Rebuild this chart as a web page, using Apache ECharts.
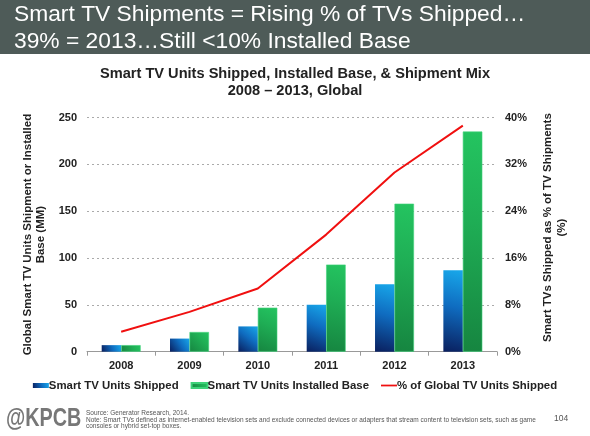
<!DOCTYPE html>
<html>
<head>
<meta charset="utf-8">
<script src="https://cdn.jsdelivr.net/npm/echarts@6/dist/echarts.min.js"></script>
<style>html,body{margin:0;padding:0;background:#fff;}#c{width:590px;height:436px;}</style>
</head>
<body>
<div id="c"></div>
<script>
const years = ['2008','2009','2010','2011','2012','2013'];
const unitsShipped = [7, 14, 27, 50, 72, 87];
const installedBase = [7, 21, 47, 93, 158, 235];
const pctShipped = [3.4, 6.8, 10.8, 20.0, 30.6, 38.6];
const leftTicks = {min: 0, max: 250, interval: 50};
const rightTicks = {min: 0, max: 40, interval: 8};

const chart = echarts.init(document.getElementById('c'));
const F = 'Liberation Sans, Arial, sans-serif';
const blueGrad = new echarts.graphic.LinearGradient(0, 1, 1, 0, [
  {offset: 0, color: '#0a1f5e'}, {offset: 0.55, color: '#0f6cc0'}, {offset: 1, color: '#18a8ea'}]);
const greenGrad = new echarts.graphic.LinearGradient(0, 1, 1, 0, [
  {offset: 0, color: '#168540'}, {offset: 0.6, color: '#1fae55'}, {offset: 1, color: '#24c460'}]);

chart.setOption({
  animation: false,
  textStyle: {fontFamily: F},
  graphic: [
    {type: 'rect', left: 0, top: 0, shape: {width: 590, height: 54}, style: {fill: '#4e5b58'}},
    {type: 'text', left: 14, top: 3, style: {text: 'Smart TV Shipments = Rising % of TVs Shipped…', fill: '#fff', font: '22.8px ' + F}},
    {type: 'text', left: 14, top: 30, style: {text: '39% = 2013…Still <10% Installed Base', fill: '#fff', font: '22.8px ' + F}},
    {type: 'text', x: 6, y: 407, scaleX: 0.79, style: {text: '@KPCB', fill: '#777', font: 'bold 25px ' + F}},
    {type: 'text', left: 86, top: 410, style: {text: 'Source: Generator Research, 2014.\nNote: Smart TVs defined as internet-enabled television sets and exclude connected devices or adapters that stream content to television sets, such as game\nconsoles or hybrid set-top boxes.', fill: '#555', font: '6.5px ' + F, lineHeight: 6.6}},
    {type: 'text', left: 554, top: 414, style: {text: '104', fill: '#555', font: '8.5px ' + F}}
  ],
  title: {
    text: 'Smart TV Units Shipped, Installed Base, & Shipment Mix\n2008 – 2013, Global',
    left: 'center', top: 60,
    textStyle: {fontSize: 14.6, fontWeight: 'bold', color: '#222', lineHeight: 17, fontFamily: F}
  },
  legend: {
    bottom: 40, left: 'center', itemGap: 12, itemWidth: 16, itemHeight: 5,
    textStyle: {fontSize: 11.4, fontWeight: 'bold', color: '#222', padding: [0, 0, 0, -5]},
    data: [
      {name: 'Smart TV Units Shipped', icon: 'rect'},
      {name: 'Smart TV Units Installed Base', icon: 'rect'},
      {name: '% of Global TV Units Shipped', icon: 'path://M0,0H20V2.2H0Z'}
    ]
  },
  grid: {left: 87, right: 93, top: 117.5, bottom: 84.3},
  xAxis: {
    type: 'category', data: years,
    axisLine: {lineStyle: {color: '#999'}},
    axisTick: {show: true, length: 4, lineStyle: {color: '#999'}},
    axisLabel: {fontSize: 11, fontWeight: 'bold', color: '#222', margin: 9}
  },
  yAxis: [
    {
      type: 'value', min: leftTicks.min, max: leftTicks.max, interval: leftTicks.interval,
      name: 'Global Smart TV Units Shipment or Installed\nBase (MM)',
      nameLocation: 'middle', nameRotate: 90, nameGap: 39,
      nameTextStyle: {fontSize: 11.5, fontWeight: 'bold', color: '#222', lineHeight: 13.5},
      axisLine: {show: false}, axisTick: {show: false},
      axisLabel: {fontSize: 11, fontWeight: 'bold', color: '#222', margin: 10},
      splitLine: {lineStyle: {color: '#aaa', type: [2, 3]}}
    },
    {
      type: 'value', min: rightTicks.min, max: rightTicks.max, interval: rightTicks.interval,
      name: 'Smart TVs Shipped as % of TV Shipments\n(%)',
      nameLocation: 'middle', nameRotate: 90, nameGap: 44,
      nameTextStyle: {fontSize: 11.5, fontWeight: 'bold', color: '#222', lineHeight: 14, padding: [0, 0, 0, 14]},
      axisLine: {show: false}, axisTick: {show: false},
      axisLabel: {fontSize: 11, fontWeight: 'bold', color: '#222', margin: 8, formatter: '{value}%'},
      splitLine: {show: false}
    }
  ],
  series: [
    {name: 'Smart TV Units Shipped', type: 'bar', data: unitsShipped, barWidth: '28.5%', barGap: '0%',
      itemStyle: {color: blueGrad}},
    {name: 'Smart TV Units Installed Base', type: 'bar', data: installedBase, barWidth: '28.5%', barGap: '0%',
      itemStyle: {color: greenGrad, borderColor: '#3fd27a', borderWidth: 0.6}},
    {name: '% of Global TV Units Shipped', type: 'line', yAxisIndex: 1, data: pctShipped,
      symbol: 'none', lineStyle: {color: '#f01010', width: 2}, itemStyle: {color: '#f01010'}}
  ]
});
</script>
</body>
</html>
